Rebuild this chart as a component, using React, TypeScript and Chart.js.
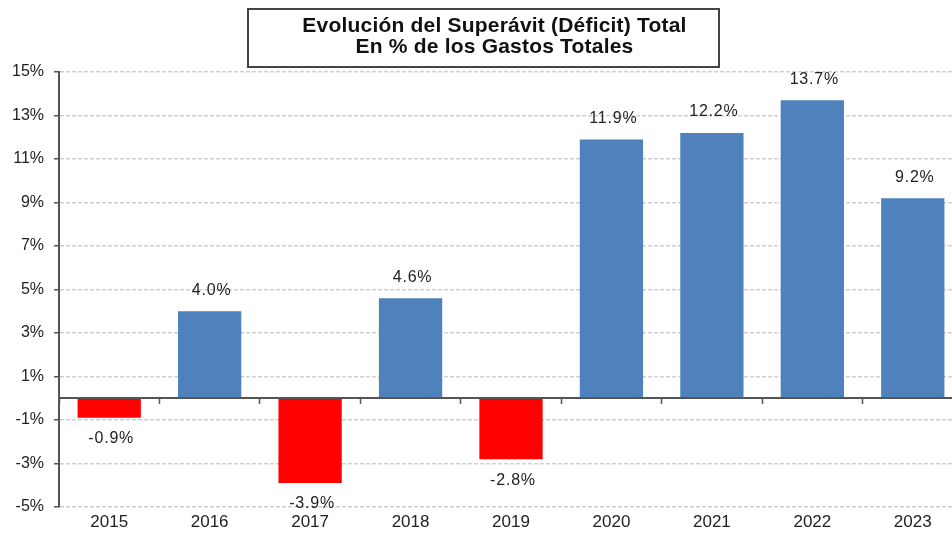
import React, { useEffect, useRef } from "react";
import { Chart, registerables } from "chart.js";

Chart.register(...registerables);

const titleLines = ["Evolución del Superávit (Déficit) Total", "En % de los Gastos Totales"];
const years = ["2015", "2016", "2017", "2018", "2019", "2020", "2021", "2022", "2023"];
const values = [-0.9, 4.0, -3.9, 4.6, -2.8, 11.9, 12.2, 13.7, 9.2];
const yMin = -5;
const yMax = 15;
const yStep = 2;

const BLUE = "#4F81BD";
const RED = "#FF0000";
const FONT = '"Liberation Sans", Arial, sans-serif';

const valueLabels = {
  id: "valueLabels",
  afterDatasetsDraw(chart: any) {
    const ctx = chart.ctx;
    const meta = chart.getDatasetMeta(0);
    ctx.save();
    ctx.font = `16px ${FONT}`;
    (ctx as any).letterSpacing = "0.8px";
    ctx.fillStyle = "#222";
    ctx.textAlign = "center";
    ctx.textBaseline = "middle";
    meta.data.forEach((bar: any, i: number) => {
      const v = values[i];
      const y = v >= 0 ? bar.y - 21 : bar.y + 21;
      ctx.fillText(v.toFixed(1) + "%", bar.x + 2, y);
    });
    ctx.restore();
  },
};

export default function App() {
  const ref = useRef<HTMLCanvasElement>(null);
  useEffect(() => {
    if (!ref.current) return;
    const chart = new Chart(ref.current, {
      type: "bar",
      data: {
        labels: years,
        datasets: [
          {
            data: values,
            backgroundColor: values.map((v) => (v >= 0 ? BLUE : RED)),
            categoryPercentage: 1,
            barPercentage: 0.63,
            xAxisID: "x",
          },
        ],
      },
      plugins: [valueLabels],
      options: {
        responsive: false,
        animation: false,
        layout: { padding: { top: 72, right: 27, left: 0, bottom: 0 } },
        plugins: { legend: { display: false }, tooltip: { enabled: false } },
        scales: {
          x: {
            type: "category",
            position: "bottom",
            offset: true,
            grid: { display: false, drawTicks: false, tickLength: 0 },
            border: { display: false },
            ticks: { color: "#222", font: { family: FONT, size: 17 }, padding: 5, maxRotation: 0 },
            afterFit(scale: any) {
              scale.height = 28;
            },
          },
          x2: {
            type: "category",
            position: { y: 0 } as any,
            offset: true,
            grid: {
              offset: true,
              drawOnChartArea: false,
              drawTicks: true,
              tickLength: 5,
              tickColor: "#555",
              tickWidth: 1.5,
              z: 1,
            },
            border: { display: true, color: "#555", width: 2, z: 1 } as any,
            ticks: { display: false },
          },
          y: {
            min: yMin,
            max: yMax,
            ticks: {
              stepSize: yStep,
              color: "#222",
              font: { family: FONT, size: 16 },
              padding: 10,
              callback: (v: any) => `${v}%`,
            },
            grid: {
              color: "#cfcfcf",
              lineWidth: 1.5,
              drawTicks: true,
              tickLength: 5,
              tickColor: "#555",
              tickBorderDash: [],
            },
            border: { display: true, color: "#555", width: 2, dash: [4, 2] },
            afterFit(scale: any) {
              scale.width = 59;
            },
          },
        },
      },
    });
    return () => chart.destroy();
  }, []);
  return (
    <div style={{ position: "absolute", left: 0, top: 0, width: 952, height: 535, overflow: "hidden", background: "#fff" }}>
      <canvas ref={ref} width={990} height={535} style={{ width: 990, height: 535, display: "block" }} />
      <div
        style={{
          position: "absolute",
          left: 247,
          top: 8,
          width: 473,
          height: 60,
          border: "2px solid #444",
          fontFamily: FONT,
          fontWeight: "bold",
          fontSize: 21,
          lineHeight: "21px",
          color: "#111",
          textAlign: "center",
          paddingLeft: 22,
          paddingBottom: 7,
          boxSizing: "border-box",
          letterSpacing: "0.2px",
          display: "flex",
          flexDirection: "column",
          justifyContent: "center",
        }}
      >
        {titleLines.map((t) => (
          <div key={t}>{t}</div>
        ))}
      </div>
    </div>
  );
}
